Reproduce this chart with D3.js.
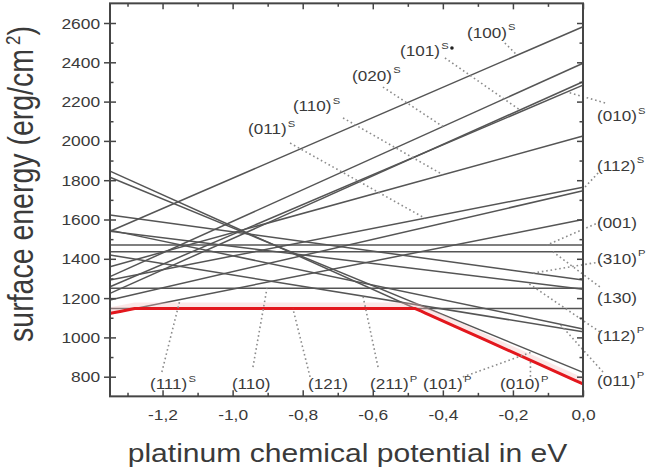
<!DOCTYPE html>
<html>
<head>
<meta charset="utf-8">
<script src="https://cdn.jsdelivr.net/npm/d3@7"></script>
<style>
  html, body { margin: 0; padding: 0; background: #fff; }
  svg { display: block; font-family: "Liberation Sans", Arial, sans-serif; }
</style>
</head>
<body>
<svg id="chart" width="648" height="472"></svg>
<script>
// ---- Data -------------------------------------------------------------
// Facets (Miller index) and their termination: S-rich, Pt-rich, or stoichiometric ("")
const facetNames   = ["(100)", "(020)", "(101)", "(010)", "(110)", "(011)", "(112)", "(111)",
                      "(001)", "(130)", "(110)", "(121)",
                      "(310)", "(112)", "(011)", "(211)", "(101)", "(010)"];
const terminations = ["S", "S", "S", "S", "S", "S", "S", "S",
                      "", "", "", "",
                      "P", "P", "P", "P", "P", "P"];
// Surface energy (erg/cm^2) at the Pt-poor end (mu = -1.35 eV) and Pt-rich end (mu = 0 eV)
const energyPtPoor = [1540, 1309, 1224, 1258, 1360, 1292, 1190, 1122,
                      1470, 1436, 1250, 1147,
                      1623, 1540, 1546, 1419, 1815, 1846];
const energyPtRich = [2581, 2395, 2301, 2284, 2025, 1764, 1746, 1600,
                      1470, 1436, 1250, 1147,
                      1292, 1245, 1043, 1029, 822, 763];

const muRange     = [-1.35, 0];
const energyRange = [700, 2700];
const xTicks      = [-1.2, -1.0, -0.8, -0.6, -0.4, -0.2, 0.0];
const xMinorTicks = [-1.3, -1.1, -0.9, -0.7, -0.5, -0.3, -0.1];
const yTicks      = [800, 1000, 1200, 1400, 1600, 1800, 2000, 2200, 2400, 2600];
const yMinorTicks = [900, 1100, 1300, 1500, 1700, 1900, 2100, 2300, 2500];

// Facet labels: which facet, where the text starts (mu, energy),
// and the dotted leader from (startMu, startEnergy) to the facet's line at tipMu
const labelFacet   = [5, 4, 1, 2, 0, 3, 6, 8, 12, 9, 13, 14, 7, 10, 11, 15, 16, 17];
const labelMu      = [-0.956, -0.828, -0.659, -0.522, -0.331,
                      0.04, 0.04, 0.04, 0.04, 0.04, 0.04, 0.04,
                      -1.236, -1.002, -0.785, -0.608, -0.457, -0.237];
const labelEnergy  = [2035, 2152, 2305, 2432, 2524,
                      2101, 1847, 1557, 1374, 1175, 982, 753,
                      737, 737, 737, 737, 737, 737];
const leaderStartMu     = [-0.836, -0.685, -0.571, -0.394, -0.223,
                           0.063, 0.043, 0.048, 0.048, 0.048, 0.048, 0.057,
                           -1.202, -0.942, -0.779, -0.585, -0.343, -0.150];
const leaderStartEnergy = [1989, 2117, 2274, 2422, 2498,
                           2193, 1837, 1587, 1384, 1257, 1028, 824,
                           824, 849, 799, 849, 799, 800];
const leaderTipMu       = [-0.451, -0.400, -0.400, -0.180, -0.188,
                           -0.046, -0.005, -0.103, -0.143, -0.086, -0.160, -0.066,
                           -1.150, -0.902, -0.828, -0.628, -0.143, -0.150];
const markerDot = { mu: -0.374, energy: 2473 };

// ---- Scales -----------------------------------------------------------
const svg = d3.select("#chart");
const x = d3.scaleLinear().domain(muRange).range([110, 583]);
const y = d3.scaleLinear().domain(energyRange).range([396.35, 3.35]);

const energyAt = (i, mu) =>
  energyPtPoor[i] + (energyPtRich[i] - energyPtPoor[i]) * (mu - muRange[0]) / (muRange[1] - muRange[0]);

const ink = "#3a3a3a";
const frameColor = "#454545";

// ---- Facet lines ------------------------------------------------------
const line = d3.line().x(d => x(d[0])).y(d => y(d[1]));
svg.append("g")
  .selectAll("path")
  .data(facetNames.map((_, i) => [[muRange[0], energyPtPoor[i]], [muRange[1], energyPtRich[i]]]))
  .join("path")
  .attr("d", line)
  .attr("fill", "none")
  .attr("stroke", "#555")
  .attr("stroke-width", 1.5);

// ---- Lower envelope (most stable surface) -----------------------------
const breaks = [muRange[0], muRange[1]];
for (let i = 0; i < facetNames.length; i++) {
  for (let j = i + 1; j < facetNames.length; j++) {
    const si = (energyPtRich[i] - energyPtPoor[i]), sj = (energyPtRich[j] - energyPtPoor[j]);
    if (si === sj) continue;
    const t = (energyPtPoor[j] - energyPtPoor[i]) / (si - sj);
    if (t > 0 && t < 1) breaks.push(muRange[0] + t * (muRange[1] - muRange[0]));
  }
}
breaks.sort((a, b) => a - b);
const envelope = breaks.map(mu => [mu, d3.min(facetNames, (_, i) => energyAt(i, mu))]);

svg.append("path")
  .attr("d", line(envelope))
  .attr("fill", "none")
  .attr("stroke", "#f4b9bb")
  .attr("stroke-opacity", 0.35)
  .attr("stroke-width", 5)
  .attr("transform", "translate(0,-3.5)");
svg.append("path")
  .attr("d", line(envelope))
  .attr("fill", "none")
  .attr("stroke", "#e3171d")
  .attr("stroke-width", 3)
  .attr("stroke-linejoin", "round");

// ---- Leaders ----------------------------------------------------------
svg.append("g")
  .selectAll("line")
  .data(labelFacet.map((f, k) => k))
  .join("line")
  .attr("x1", k => x(leaderStartMu[k]))
  .attr("y1", k => y(leaderStartEnergy[k]))
  .attr("x2", k => x(leaderTipMu[k]))
  .attr("y2", k => y(energyAt(labelFacet[k], leaderTipMu[k])))
  .attr("stroke", "#8c8c8c")
  .attr("stroke-width", 1.6)
  .attr("stroke-dasharray", "1.6 2.8");

// ---- Frame and ticks --------------------------------------------------
const plotBottom = y.range()[0], plotTop = y.range()[1];
const plotLeft = x.range()[0], plotRight = x.range()[1];

svg.append("rect")
  .attr("x", plotLeft).attr("y", plotTop)
  .attr("width", plotRight - plotLeft)
  .attr("height", plotBottom - plotTop)
  .attr("fill", "none").attr("stroke", frameColor).attr("stroke-width", 2);

const locale = d3.formatLocale({ decimal: ",", thousands: ".", grouping: [3], currency: ["", ""], minus: "-" });
const fmtX = locale.format(".1f");

function styleAxis(g) {
  g.select(".domain").remove();
  g.selectAll(".tick line").attr("stroke", frameColor).attr("stroke-width", 1.5);
}

// bottom axis with labels
svg.append("g").attr("transform", `translate(0,${plotBottom})`)
  .call(d3.axisBottom(x).tickValues(xTicks).tickSizeInner(-6).tickSizeOuter(0).tickFormat(fmtX))
  .call(styleAxis)
  .call(g => g.selectAll(".tick text")
    .attr("y", 23.5).attr("dy", 0)
    .attr("fill", ink).attr("font-size", 14.5)
    .attr("font-family", "Liberation Sans, Arial, sans-serif")
    .attr("transform", "scale(1.2,1)"));
svg.append("g").attr("transform", `translate(0,${plotBottom})`)
  .call(d3.axisBottom(x).tickValues(xMinorTicks).tickSize(-3.5).tickFormat(""))
  .call(styleAxis);

// top axis
svg.append("g").attr("transform", `translate(0,${plotTop})`)
  .call(d3.axisTop(x).tickValues(xTicks).tickSize(-6).tickFormat(""))
  .call(styleAxis);
svg.append("g").attr("transform", `translate(0,${plotTop})`)
  .call(d3.axisTop(x).tickValues(xMinorTicks).tickSize(-3.5).tickFormat(""))
  .call(styleAxis);

// left axis with labels (major ticks cross the frame)
svg.append("g").attr("transform", `translate(${plotLeft},0)`)
  .call(d3.axisLeft(y).tickValues(yTicks).tickSizeInner(6).tickSizeOuter(0).tickPadding(3).tickFormat(d3.format("d")))
  .call(styleAxis)
  .call(g => g.selectAll(".tick text")
    .attr("x", -8.3).attr("dy", "0.35em")
    .attr("fill", ink).attr("font-size", 14.5)
    .attr("font-family", "Liberation Sans, Arial, sans-serif")
    .attr("transform", "scale(1.2,1)"));
svg.append("g").attr("transform", `translate(${plotLeft},0)`)
  .call(d3.axisLeft(y).tickValues(yTicks).tickSize(-6).tickFormat(""))
  .call(styleAxis);
svg.append("g").attr("transform", `translate(${plotLeft},0)`)
  .call(d3.axisLeft(y).tickValues(yMinorTicks).tickSize(-3.5).tickFormat(""))
  .call(styleAxis);

// right axis
svg.append("g").attr("transform", `translate(${plotRight},0)`)
  .call(d3.axisRight(y).tickValues(yTicks).tickSize(-6).tickFormat(""))
  .call(styleAxis);
svg.append("g").attr("transform", `translate(${plotRight},0)`)
  .call(d3.axisRight(y).tickValues(yMinorTicks).tickSize(-3.5).tickFormat(""))
  .call(styleAxis);

// ---- Facet labels -----------------------------------------------------
const labels = svg.append("g")
  .selectAll("text")
  .data(labelFacet.map((f, k) => k))
  .join("text")
  .attr("transform", k => `translate(${x(labelMu[k])},${y(labelEnergy[k])}) scale(1.18,1)`)
  .attr("fill", ink)
  .attr("font-size", 14.5);
labels.append("tspan").text(k => facetNames[labelFacet[k]]);
labels.filter(k => terminations[labelFacet[k]] !== "")
  .append("tspan")
  .attr("dx", 1)
  .attr("dy", -7.5)
  .attr("font-size", 9.5)
  .text(k => terminations[labelFacet[k]]);

svg.append("circle")
  .attr("cx", x(markerDot.mu)).attr("cy", y(markerDot.energy))
  .attr("r", 1.8).attr("fill", "#222");

// ---- Axis titles ------------------------------------------------------
const yTitle = svg.append("text")
  .attr("transform", "translate(33,184) rotate(-90) scale(1,1.2)")
  .attr("text-anchor", "middle")
  .attr("fill", ink)
  .attr("font-size", 28.5);
yTitle.append("tspan").text("surface energy (erg/cm");
yTitle.append("tspan").attr("font-size", 17).attr("dx", 4).attr("dy", -11).text("2");
yTitle.append("tspan").attr("dy", 11).text(")");

svg.append("text")
  .attr("transform", "translate(347.5,462) scale(1.18,1)")
  .attr("text-anchor", "middle")
  .attr("fill", ink)
  .attr("font-size", 25.5)
  .text("platinum chemical potential in eV");
</script>
</body>
</html>
